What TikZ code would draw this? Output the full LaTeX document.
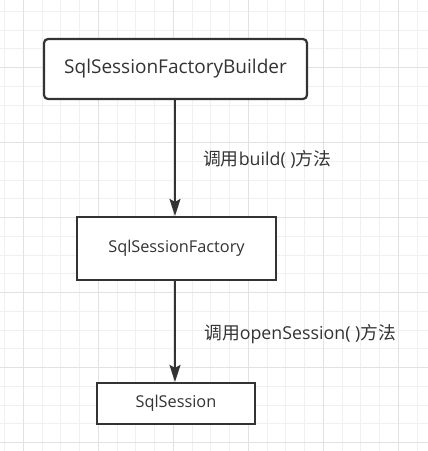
\documentclass[tikz,border=0pt]{standalone}
\usepackage{fontspec}
\setmainfont{Open Sans}
\newfontfamily\cjk{Noto Sans CJK SC}
\usetikzlibrary{arrows.meta}
\definecolor{ink}{HTML}{333333}
\definecolor{gridminor}{HTML}{F0F0F0}
\definecolor{gridmajor}{HTML}{E2E2E2}
\tikzset{
  box/.style={draw=ink, line width=2.2pt, fill=white, text=ink, inner sep=0pt, anchor=center},
  flow/.style={draw=ink, line width=2.2pt, -{Stealth[length=17pt, width=11pt, inset=3pt]}},
  lbl/.style={text=ink, inner sep=0pt, anchor=west, font=\fontsize{17.8}{21}\selectfont},
}
\begin{document}
\begin{tikzpicture}[x=1pt, y=-1pt]
\useasboundingbox (0,0) rectangle (428,451);
% grid
\foreach \k in {0,...,22} {
  \draw[gridminor, line width=1pt] ({4.55+18.75*\k},0) -- ({4.55+18.75*\k},451);
}
\foreach \k in {0,...,23} {
  \draw[gridminor, line width=1pt] (0,{11.3+18.75*\k}) -- (428,{11.3+18.75*\k});
}
\foreach \k in {0,...,5} {
  \draw[gridmajor, line width=1pt] ({23.3+75*\k},0) -- ({23.3+75*\k},451);
  \draw[gridmajor, line width=1pt] (0,{67.55+75*\k}) -- (428,{67.55+75*\k});
}
% boxes
\node[box, rounded corners=4pt, minimum width=263pt, minimum height=60pt, font=\fontsize{19}{23}\selectfont] (b1) at (175.5,69) {SqlSessionFactoryBuilder};
\node[box, minimum width=199pt, minimum height=63pt, font=\fontsize{16.3}{20}\selectfont] (b2) at (176.5,248.5) {SqlSessionFactory};
\node[box, minimum width=158pt, minimum height=41pt, font=\fontsize{16.3}{20}\selectfont] (b3) at (176,403.5) {SqlSession};
% connectors
\draw[flow] (b1.south -| 175,0) -- (b2.north -| 175,0);
\draw[flow] (b2.south -| 175,0) -- (b3.north -| 175,0);
% labels
\node[lbl] (l1) at (203,159) {{\cjk 调用}build( ){\cjk 方法}};
\node[lbl] (l2) at (204,334) {{\cjk 调用}openSession( ){\cjk 方法}};
\end{tikzpicture}
\end{document}
